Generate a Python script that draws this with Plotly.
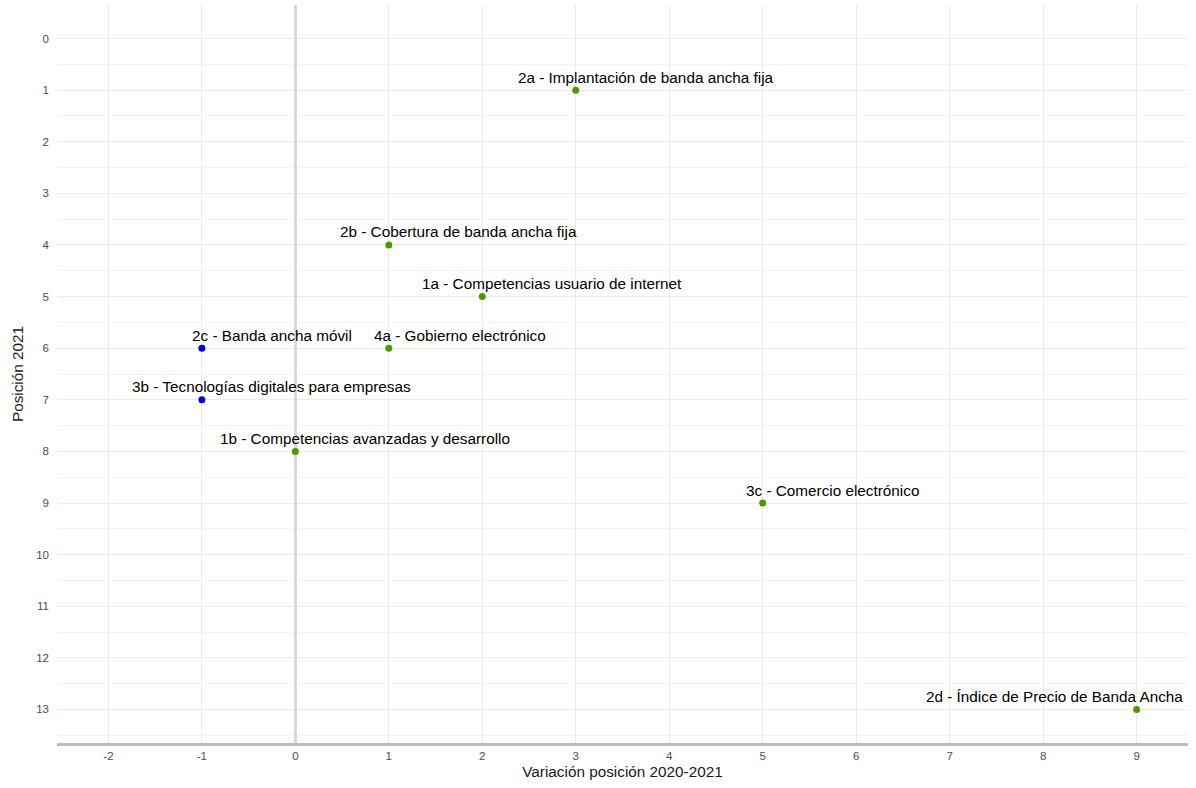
import plotly.graph_objects as go

labels = [
    "2a - Implantación de banda ancha fija",
    "2b - Cobertura de banda ancha fija",
    "1a - Competencias usuario de internet",
    "2c - Banda ancha móvil",
    "4a - Gobierno electrónico",
    "3b - Tecnologías digitales para empresas",
    "1b - Competencias avanzadas y desarrollo",
    "3c - Comercio electrónico",
    "2d - Índice de Precio de Banda Ancha",
]
variacion = [3, 1, 2, -1, 1, -1, 0, 5, 9]
posicion = [1, 4, 5, 6, 6, 7, 8, 9, 13]
grupo = ["up", "up", "up", "down", "up", "down", "up", "up", "up"]

x_ticks = list(range(-2, 10))
x_ticktext = [str(v) for v in x_ticks]
y_ticks = list(range(0, 14))

colors = {"up": "#4c9a00", "down": "#0000dd"}
label_xshift = [70, 70, 70, 70, 71, 70, 70, 70, -82]

fig = go.Figure()
fig.add_trace(go.Scatter(
    x=variacion, y=posicion, mode="markers",
    marker=dict(size=7, color=[colors[g] for g in grupo]),
    hoverinfo="text", text=labels, showlegend=False,
))
for lab, xv, yv, dx in zip(labels, variacion, posicion, label_xshift):
    fig.add_annotation(x=xv, y=yv, text=lab, showarrow=False,
                       xshift=dx, yshift=13,
                       font=dict(family="Liberation Sans, Arial", size=15.3, color="black"))

fig.update_layout(
    width=1196, height=788,
    margin=dict(l=57, r=8, t=5, b=45),
    plot_bgcolor="white", paper_bgcolor="white",
    font=dict(family="Liberation Sans, Arial"),
)
fig.update_xaxes(
    range=[-2.55, 9.55], tickvals=x_ticks, ticktext=x_ticktext,
    showgrid=True, gridcolor="#ebebeb", gridwidth=1.3,
    zeroline=True, zerolinecolor="#d9d9d9", zerolinewidth=2.5,
    showline=True, linecolor="#bdbdbd", linewidth=3,
    tickfont=dict(size=11.5, color="#4d4d4d"), ticks="",
    title=dict(text="Variación posición 2020-2021", font=dict(size=15.3, color="#1a1a1a"), standoff=6),
)
fig.update_yaxes(
    range=[13.65, -0.65], tickvals=y_ticks,
    showgrid=True, gridcolor="#ebebeb", gridwidth=1.3,
    zeroline=False, showline=False,
    minor=dict(showgrid=True, gridcolor="#f3f3f3", gridwidth=1,
               tickvals=[i + 0.5 for i in range(14)]),
    tickfont=dict(size=11.5, color="#4d4d4d"), ticks="", ticklabelstandoff=7,
    title=dict(text="Posición 2021", font=dict(size=15.3, color="#1a1a1a"), standoff=8),
)
fig.write_html("out.html")
